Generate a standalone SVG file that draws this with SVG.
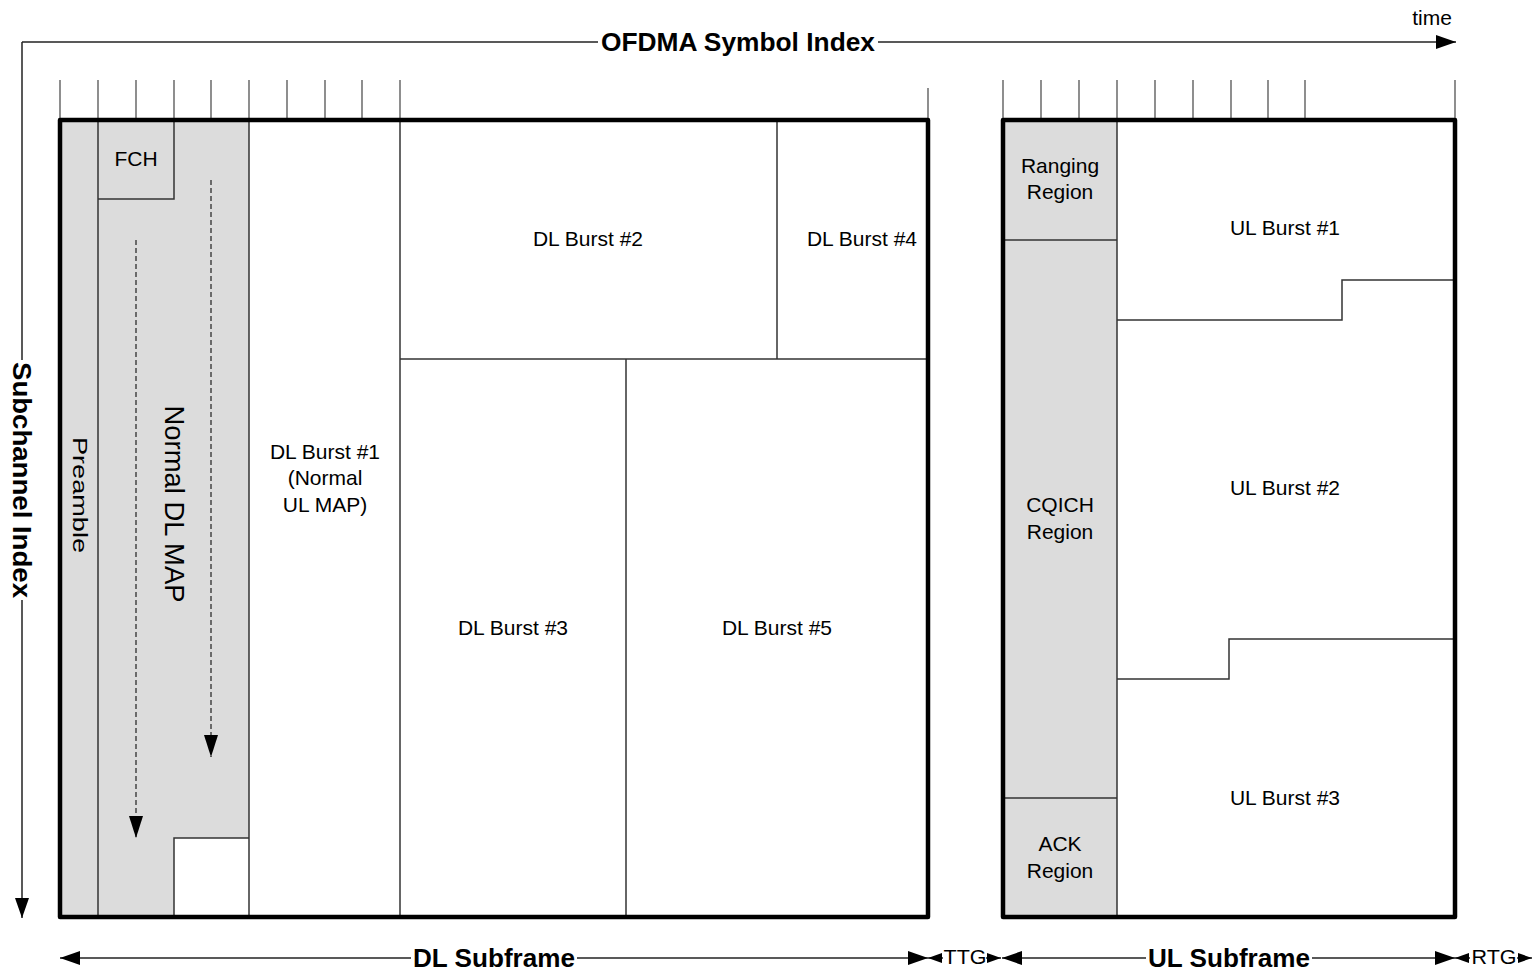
<svg xmlns="http://www.w3.org/2000/svg" width="1536" height="974" viewBox="0 0 1536 974">
<style>
.lbl{font-family:"Liberation Sans",Arial,sans-serif;font-size:21px;fill:#000;text-anchor:middle}
.ttl{font-family:"Liberation Sans",Arial,sans-serif;font-size:26px;font-weight:bold;fill:#000;text-anchor:middle}
.sm{font-family:"Liberation Sans",Arial,sans-serif;font-size:20px;fill:#000;text-anchor:middle}
.frame{fill:none;stroke:#000;stroke-width:4.5;stroke-linejoin:round}
.inner{fill:none;stroke:#333;stroke-width:1.5}
.tick{stroke:#444;stroke-width:1.2}
.ax{stroke:#222;stroke-width:1.5;fill:none}
.gray{fill:#dcdcdc;stroke:none}
.dash{stroke:#444;stroke-width:1.5;stroke-dasharray:5 3;fill:none}
</style>
<defs>
<marker id="ah" markerUnits="userSpaceOnUse" markerWidth="22" markerHeight="16" refX="20" refY="7" orient="auto">
<path d="M0,0 L20,7 L0,14 Z" fill="#000"/>
</marker>
<marker id="ahs" markerUnits="userSpaceOnUse" markerWidth="16" markerHeight="12" refX="14" refY="5" orient="auto">
<path d="M0,0 L14,5 L0,10 Z" fill="#000"/>
</marker>
<marker id="ahd" markerUnits="userSpaceOnUse" markerWidth="24" markerHeight="16" refX="22" refY="7" orient="auto">
<path d="M0,0 L22,7 L0,14 Z" fill="#000"/>
</marker>
</defs>

<g id="axes">
<line class="ax" x1="22" y1="42" x2="598" y2="42"/>
<line class="ax" x1="878" y1="42" x2="1456" y2="42" marker-end="url(#ah)"/>
<text class="ttl" x="738" y="51" textLength="274" lengthAdjust="spacingAndGlyphs">OFDMA Symbol Index</text>
<text class="lbl" x="1432" y="25">time</text>
<line class="ax" x1="22" y1="42" x2="22" y2="360"/>
<line class="ax" x1="22" y1="600" x2="22" y2="918" marker-end="url(#ah)"/>
<text class="ttl" transform="translate(13,480) rotate(90)" x="0" y="0" textLength="236" lengthAdjust="spacingAndGlyphs">Subchannel Index</text>
</g>

<g id="ticks">
<line class="tick" x1="60" y1="80" x2="60" y2="120"/>
<line class="tick" x1="98" y1="80" x2="98" y2="120"/>
<line class="tick" x1="136" y1="80" x2="136" y2="120"/>
<line class="tick" x1="174" y1="80" x2="174" y2="120"/>
<line class="tick" x1="211" y1="80" x2="211" y2="120"/>
<line class="tick" x1="249" y1="80" x2="249" y2="120"/>
<line class="tick" x1="287" y1="80" x2="287" y2="120"/>
<line class="tick" x1="325" y1="80" x2="325" y2="120"/>
<line class="tick" x1="362" y1="80" x2="362" y2="120"/>
<line class="tick" x1="400" y1="80" x2="400" y2="120"/>
<line class="tick" x1="928" y1="88" x2="928" y2="120"/>
<line class="tick" x1="1003" y1="80" x2="1003" y2="120"/>
<line class="tick" x1="1041" y1="80" x2="1041" y2="120"/>
<line class="tick" x1="1079" y1="80" x2="1079" y2="120"/>
<line class="tick" x1="1117" y1="80" x2="1117" y2="120"/>
<line class="tick" x1="1155" y1="80" x2="1155" y2="120"/>
<line class="tick" x1="1193" y1="80" x2="1193" y2="120"/>
<line class="tick" x1="1231" y1="80" x2="1231" y2="120"/>
<line class="tick" x1="1268" y1="80" x2="1268" y2="120"/>
<line class="tick" x1="1305" y1="80" x2="1305" y2="120"/>
<line class="tick" x1="1455" y1="80" x2="1455" y2="120"/>
</g>

<g id="dl-subframe">
<path class="gray" d="M60,120 L249,120 L249,838 L174,838 L174,917 L60,917 Z"/>
<g id="preamble">
<line class="inner" x1="98" y1="120" x2="98" y2="917"/>
<text class="lbl" transform="translate(73,495) rotate(90)" textLength="116" lengthAdjust="spacingAndGlyphs">Preamble</text>
</g>
<g id="fch">
<path class="inner" d="M98,199 L174,199 L174,120"/>
<text class="lbl" x="136" y="166">FCH</text>
</g>
<g id="dl-map">
<path class="inner" d="M174,917 L174,838 L249,838"/>
<line class="dash" x1="136" y1="240" x2="136" y2="838" marker-end="url(#ahd)"/>
<line class="dash" x1="211" y1="180" x2="211" y2="757" marker-end="url(#ahd)"/>
<text class="lbl" style="font-size:27px" transform="translate(165,504) rotate(90)" textLength="197" lengthAdjust="spacingAndGlyphs">Normal DL MAP</text>
</g>
<g id="dl-burst1">
<line class="inner" x1="249" y1="120" x2="249" y2="917"/>
<text class="lbl" x="325" y="459">DL Burst #1</text>
<text class="lbl" x="325" y="485">(Normal</text>
<text class="lbl" x="325" y="512">UL MAP)</text>
</g>
<line class="inner" x1="400" y1="120" x2="400" y2="917"/>
<g id="dl-burst2">
<line class="inner" x1="400" y1="359" x2="928" y2="359"/>
<text class="lbl" x="588" y="246">DL Burst #2</text>
</g>
<g id="dl-burst4">
<line class="inner" x1="777" y1="120" x2="777" y2="359"/>
<text class="lbl" x="862" y="246">DL Burst #4</text>
</g>
<g id="dl-burst3">
<text class="lbl" x="513" y="635">DL Burst #3</text>
</g>
<g id="dl-burst5">
<line class="inner" x1="626" y1="359" x2="626" y2="917"/>
<text class="lbl" x="777" y="635">DL Burst #5</text>
</g>
<rect class="frame" x="60" y="120" width="868" height="797"/>
</g>

<g id="ul-subframe">
<rect class="gray" x="1003" y="120" width="114" height="797"/>
<g id="ranging">
<line class="inner" x1="1003" y1="240" x2="1117" y2="240"/>
<text class="lbl" x="1060" y="173">Ranging</text>
<text class="lbl" x="1060" y="199">Region</text>
</g>
<g id="cqich">
<text class="lbl" x="1060" y="512">CQICH</text>
<text class="lbl" x="1060" y="539">Region</text>
</g>
<g id="ack">
<line class="inner" x1="1003" y1="798" x2="1117" y2="798"/>
<text class="lbl" x="1060" y="851">ACK</text>
<text class="lbl" x="1060" y="878">Region</text>
</g>
<line class="inner" x1="1117" y1="120" x2="1117" y2="917"/>
<g id="ul-burst1">
<path class="inner" d="M1117,320 L1342,320 L1342,280 L1455,280"/>
<text class="lbl" x="1285" y="235">UL Burst #1</text>
</g>
<g id="ul-burst2">
<path class="inner" d="M1117,679 L1229,679 L1229,639 L1455,639"/>
<text class="lbl" x="1285" y="495">UL Burst #2</text>
</g>
<g id="ul-burst3">
<text class="lbl" x="1285" y="805">UL Burst #3</text>
</g>
<rect class="frame" x="1003" y="120" width="452" height="797"/>
</g>

<g id="connectors">
<line class="ax" x1="411" y1="958" x2="60" y2="958" marker-end="url(#ah)"/>
<line class="ax" x1="577" y1="958" x2="928" y2="958" marker-end="url(#ah)"/>
<text class="ttl" x="494" y="967" textLength="162" lengthAdjust="spacingAndGlyphs">DL Subframe</text>
<line class="ax" x1="943" y1="958" x2="928" y2="958" marker-end="url(#ahs)"/>
<line class="ax" x1="986" y1="958" x2="1001" y2="958" marker-end="url(#ahs)"/>
<text class="sm" x="965" y="964" textLength="43" lengthAdjust="spacingAndGlyphs">TTG</text>
<line class="ax" x1="1146" y1="958" x2="1002" y2="958" marker-end="url(#ah)"/>
<line class="ax" x1="1312" y1="958" x2="1455" y2="958" marker-end="url(#ah)"/>
<text class="ttl" x="1229" y="967" textLength="162" lengthAdjust="spacingAndGlyphs">UL Subframe</text>
<line class="ax" x1="1470" y1="958" x2="1455" y2="958" marker-end="url(#ahs)"/>
<line class="ax" x1="1517" y1="958" x2="1532" y2="958" marker-end="url(#ahs)"/>
<text class="sm" x="1494" y="964" textLength="45" lengthAdjust="spacingAndGlyphs">RTG</text>
</g>
</svg>
